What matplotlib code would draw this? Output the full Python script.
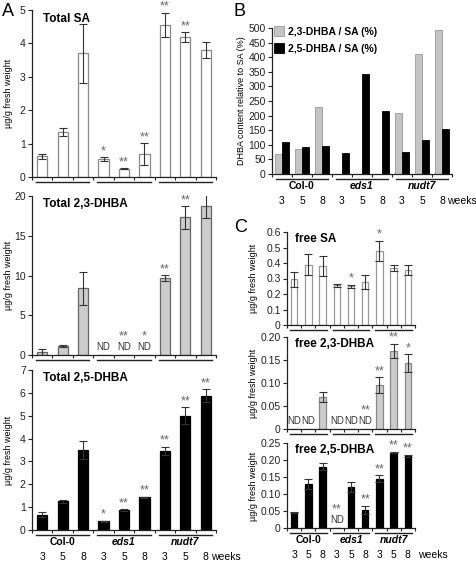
import matplotlib
matplotlib.use("Agg")
import matplotlib.pyplot as plt
from matplotlib.transforms import blended_transform_factory, offset_copy
import numpy as np

plt.rcParams['font.family'] = ['Liberation Sans', 'DejaVu Sans']

# --- data -------------------------------------------------------------
groups = ['Col-0', 'eds1', 'nudt7']
weeks = ['3', '5', '8', '3', '5', '8', '3', '5', '8']
nan = np.nan

total_sa = [0.62, 1.35, 3.7, 0.53, 0.25, 0.68, 4.55, 4.18, 3.8]
total_sa_err = [0.07, 0.13, 0.88, 0.06, 0.02, 0.33, 0.37, 0.15, 0.25]
total_sa_sig = ['', '', '', '*', '**', '**', '**', '**', '']

total_23 = [0.4, 1.1, 8.4, nan, nan, nan, 9.7, 17.3, 18.8]
total_23_err = [0.4, 0.1, 2.1, 0, 0, 0, 0.35, 1.4, 1.6]
total_23_sig = ['', '', '', '', '**', '*', '**', '**', '*']

total_25 = [0.67, 1.25, 3.5, 0.38, 0.86, 1.43, 3.47, 5.0, 5.88]
total_25_err = [0.1, 0.05, 0.4, 0.02, 0.05, 0.02, 0.18, 0.38, 0.28]
total_25_sig = ['', '', '', '*', '**', '**', '**', '**', '**']

ratio_23 = [68, 85, 228, 0, 0, 0, 210, 412, 493]
ratio_25 = [108, 93, 95, 72, 343, 215, 75, 118, 155]

free_sa = [0.295, 0.39, 0.38, 0.255, 0.25, 0.275, 0.48, 0.37, 0.355]
free_sa_err = [0.05, 0.065, 0.065, 0.012, 0.01, 0.045, 0.065, 0.02, 0.03]
free_sa_sig = ['', '', '', '', '*', '', '*', '', '']

free_23 = [nan, nan, 0.07, nan, nan, nan, 0.095, 0.17, 0.143]
free_23_err = [0, 0, 0.011, 0, 0, 0, 0.017, 0.015, 0.02]
free_23_sig = ['', '', '', '', '', '**', '**', '**', '*']

free_25 = [0.045, 0.13, 0.18, nan, 0.12, 0.054, 0.145, 0.222, 0.213]
free_25_err = [0.002, 0.015, 0.01, 0, 0.015, 0.012, 0.01, 0.002, 0.003]
free_25_sig = ['', '', '', '**', '', '**', '**', '**', '**']

# --- layout -----------------------------------------------------------
W, H = 477, 564
fig = plt.figure(figsize=(W / 100, H / 100), dpi=100)
AX_COL = '#222222'
ERR_COL = '#333333'
STAR_COL = '#666666'
x = np.arange(9)


def add_ax(l, r, t, b):
    ax = fig.add_axes([l / W, 1 - b / H, (r - l) / W, (b - t) / H])
    for s in ['top', 'right']:
        ax.spines[s].set_visible(False)
    for s in ['left', 'bottom']:
        ax.spines[s].set_color(AX_COL)
        ax.spines[s].set_linewidth(0.9)
    ax.set_xlim(-0.5, 8.5)
    ax.set_xticks(np.arange(-0.5, 9, 1))
    ax.set_xticklabels([])
    ax.tick_params(axis='x', length=2.5, width=0.8, color=AX_COL)
    ax.tick_params(axis='y', length=3, width=0.8, color=AX_COL, labelsize=7.5,
                   pad=1.5, labelcolor='#222222')
    return ax


def groups_below(ax, labels=False, weeks_x=8.35):
    blend = blended_transform_factory(ax.transData, ax.transAxes)
    tline = offset_copy(blend, fig=fig, y=-5, units='dots')
    for g in range(3):
        c = 3 * g + 1
        ax.plot([c - 1.3, c + 1.3], [0, 0], color=AX_COL, lw=1.0,
                transform=tline, clip_on=False)
    if labels:
        tlab = offset_copy(blend, fig=fig, y=-12, units='dots')
        for g, name in enumerate(groups):
            ax.text(3 * g + 1, 0, name, transform=tlab, ha='center', va='center',
                    fontsize=7.5, fontweight='bold',
                    fontstyle='normal' if g == 0 else 'italic')
        tnum = offset_copy(blend, fig=fig, y=-27, units='dots')
        for i, w in enumerate(weeks):
            ax.text(i, 0, w, transform=tnum, ha='center', va='center', fontsize=7.5)
        ax.text(weeks_x, 0, 'weeks', transform=tnum, ha='left', va='center',
                fontsize=7.5)


def bar_panel(ax, vals, errs, sig, fill, edge, width, title, nd_fs=7):
    vals = np.array(vals, dtype=float)
    errs = np.array(errs, dtype=float)
    plot_vals = np.nan_to_num(vals)
    ax.bar(x, plot_vals, width, color=fill, edgecolor=edge, linewidth=0.9,
           zorder=2)
    has = ~np.isnan(vals)
    ax.errorbar(x[has], vals[has], yerr=errs[has], fmt='none', ecolor=ERR_COL,
                elinewidth=0.8, capsize=3, capthick=0.8, zorder=3)
    for i in range(9):
        if np.isnan(vals[i]):
            ax.annotate('ND', (i, 0), xytext=(0, 2), textcoords='offset points',
                        ha='center', va='bottom', fontsize=nd_fs, color='#333333')
            if sig[i]:
                ax.annotate(sig[i], (i, 0), xytext=(0, 9), textcoords='offset points',
                            ha='center', va='bottom', fontsize=9, color=STAR_COL)
        elif sig[i]:
            ax.annotate(sig[i], (i, vals[i] + errs[i]), xytext=(0, 0),
                        textcoords='offset points', ha='center', va='bottom',
                        fontsize=9, color=STAR_COL)
    ax.text(0.06, 0.985, title, transform=ax.transAxes, ha='left', va='top',
            fontsize=8.5, fontweight='bold')


# Panel A
aL, aR = 32, 216
ax1 = add_ax(aL, aR, 10, 177)
bar_panel(ax1, total_sa, total_sa_err, total_sa_sig, 'white', '#888888', 0.5, 'Total SA')
ax1.set_ylim(0, 5)
ax1.set_yticks(range(0, 6))
groups_below(ax1)

ax2 = add_ax(aL, aR, 196, 355)
bar_panel(ax2, total_23, total_23_err, total_23_sig, '#cccccc', '#666666', 0.5,
          'Total 2,3-DHBA')
ax2.set_ylim(0, 20)
ax2.set_yticks(range(0, 21, 5))
groups_below(ax2)

ax3 = add_ax(aL, aR, 370, 530)
bar_panel(ax3, total_25, total_25_err, total_25_sig, 'black', 'black', 0.5,
          'Total 2,5-DHBA')
ax3.set_ylim(0, 7)
ax3.set_yticks(range(0, 8))
groups_below(ax3, labels=True, weeks_x=8.25)

for ax, yc in [(ax1, 93), (ax2, 275), (ax3, 450)]:
    fig.text(9 / W, 1 - yc / H, 'µg/g fresh weight', rotation=90, ha='center',
             va='center', fontsize=6.5)

# Panel B
axb = add_ax(272, 452, 28, 174)
bw = 0.33
axb.bar(x - bw / 2, ratio_23, bw, color='#c4c4c4', edgecolor='#999999',
        linewidth=0.6, label='2,3-DHBA / SA (%)', zorder=2)
axb.bar(x + bw / 2, ratio_25, bw, color='black', edgecolor='black',
        linewidth=0.6, label='2,5-DHBA / SA (%)', zorder=2)
axb.set_ylim(0, 500)
axb.set_yticks(range(0, 501, 50))
leg = axb.legend(loc='upper left', bbox_to_anchor=(-0.01, 1.04), frameon=False,
                 fontsize=7.5, handlelength=0.9, handleheight=1.1, handletextpad=0.4,
                 labelspacing=0.6, borderaxespad=0)
for t in leg.get_texts():
    t.set_fontweight('bold')
groups_below(axb, labels=True, weeks_x=8.25)
fig.text(241 / W, 1 - 101 / H, 'DHBA content relative to SA (%)', rotation=90,
         ha='center', va='center', fontsize=6.5)

# Panel C
cL, cR = 287, 415
axc1 = add_ax(cL, cR, 232, 325)
bar_panel(axc1, free_sa, free_sa_err, free_sa_sig, 'white', '#999999', 0.45, 'free SA')
axc1.set_ylim(0, 0.6)
axc1.set_yticks(np.arange(0, 0.61, 0.1))
axc1.set_yticklabels(['0'] + ['%.1f' % v for v in np.arange(0.1, 0.61, 0.1)])
groups_below(axc1)

axc2 = add_ax(cL, cR, 337, 429)
bar_panel(axc2, free_23, free_23_err, free_23_sig, '#cccccc', '#888888', 0.45,
          'free 2,3-DHBA', nd_fs=7)
axc2.set_ylim(0, 0.2)
axc2.set_yticks(np.arange(0, 0.201, 0.05))
axc2.set_yticklabels(['0'] + ['%.2f' % v for v in np.arange(0.05, 0.201, 0.05)])
groups_below(axc2)

axc3 = add_ax(cL, cR, 443, 528)
bar_panel(axc3, free_25, free_25_err, free_25_sig, 'black', 'black', 0.45,
          'free 2,5-DHBA', nd_fs=7)
axc3.set_ylim(0, 0.25)
axc3.set_yticks(np.arange(0, 0.251, 0.05))
axc3.set_yticklabels(['0'] + ['%.2f' % v for v in np.arange(0.05, 0.251, 0.05)])
groups_below(axc3, labels=True, weeks_x=8.7)

for yc in [278, 383, 486]:
    fig.text(253 / W, 1 - yc / H, 'µg/g fresh weight', rotation=90, ha='center',
             va='center', fontsize=6.5)

# panel letters
fig.text(2 / W, 1 - 12 / H, 'A', fontsize=13, ha='left', va='center')
fig.text(234 / W, 1 - 12 / H, 'B', fontsize=13, ha='left', va='center')
fig.text(234 / W, 1 - 227 / H, 'C', fontsize=13, ha='left', va='center')

fig.savefig('out.png', dpi=100)
